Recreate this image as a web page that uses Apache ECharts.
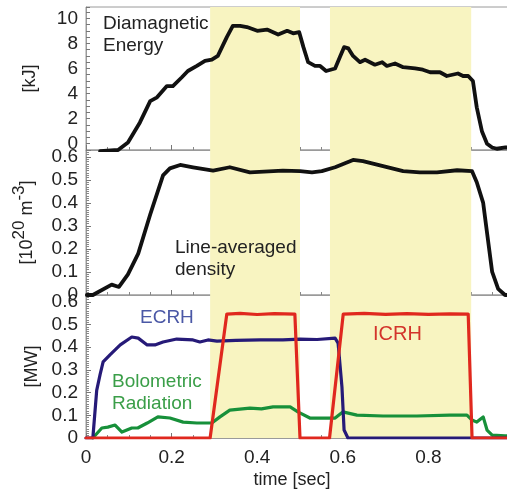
<!DOCTYPE html>
<html>
<head>
<meta charset="utf-8">
<script src="https://cdn.jsdelivr.net/npm/echarts@6/dist/echarts.min.js"></script>
<style>
  html, body { margin: 0; padding: 0; background: #fff; overflow: hidden; }
  #chart { width: 507px; height: 490px; }
</style>
</head>
<body>
<div id="chart"></div>
<script>
// Heating intervals (sec) shaded in every panel
const heatingWindows = [[0.29, 0.5], [0.57, 0.9]];

// Diamagnetic energy [kJ]
const energyTime = [0.033, 0.075, 0.098, 0.126, 0.15, 0.166, 0.189, 0.203, 0.224, 0.238, 0.259, 0.278, 0.294, 0.308, 0.329, 0.343, 0.36, 0.376, 0.40, 0.423, 0.449, 0.47, 0.484, 0.498, 0.508, 0.519, 0.535, 0.547, 0.561, 0.582, 0.593, 0.603, 0.613, 0.624, 0.64, 0.652, 0.675, 0.692, 0.703, 0.722, 0.741, 0.769, 0.787, 0.804, 0.827, 0.843, 0.869, 0.881, 0.893, 0.904, 0.913, 0.925, 0.937, 0.949, 0.96, 0.98, 1.0];
const energyKJ = [-0.6, -0.5, 0.1, 1.7, 3.4, 3.7, 4.6, 4.6, 5.3, 5.8, 6.2, 6.6, 6.7, 7.0, 8.5, 9.4, 9.4, 9.3, 9.0, 9.1, 8.7, 9.0, 8.8, 8.9, 7.7, 6.5, 6.2, 6.2, 5.8, 6.0, 6.9, 7.7, 7.6, 7.0, 6.5, 6.7, 6.3, 6.5, 6.2, 6.4, 6.1, 6.0, 5.9, 5.7, 5.7, 5.4, 5.6, 5.4, 5.4, 5.0, 2.9, 1.0, 0.0, -0.3, -0.4, -0.3, -0.3];

// Line-averaged density [10^20 m^-3]
const densityTime = [0.002, 0.016, 0.06, 0.077, 0.098, 0.122, 0.15, 0.18, 0.196, 0.22, 0.25, 0.297, 0.336, 0.383, 0.46, 0.5, 0.528, 0.551, 0.582, 0.624, 0.647, 0.694, 0.741, 0.78, 0.82, 0.867, 0.902, 0.913, 0.928, 0.937, 0.949, 0.963, 0.979, 1.0];
const density = [0, 0, 0.045, 0.035, 0.09, 0.18, 0.35, 0.52, 0.55, 0.565, 0.555, 0.54, 0.555, 0.533, 0.54, 0.538, 0.533, 0.538, 0.555, 0.587, 0.582, 0.56, 0.538, 0.533, 0.533, 0.542, 0.538, 0.49, 0.4, 0.27, 0.10, 0.027, 0, 0];

// ECRH power [MW]
const ecrhTime = [0, 0.016, 0.025, 0.033, 0.04, 0.056, 0.08, 0.107, 0.122, 0.143, 0.161, 0.18, 0.212, 0.25, 0.266, 0.285, 0.306, 0.35, 0.407, 0.46, 0.5, 0.54, 0.582, 0.589, 0.598, 0.603, 0.612, 0.7, 0.8, 0.9, 1.0];
const ecrhMW = [0, 0, 0.21, 0.28, 0.335, 0.366, 0.41, 0.445, 0.44, 0.41, 0.41, 0.423, 0.436, 0.432, 0.423, 0.432, 0.427, 0.43, 0.432, 0.432, 0.436, 0.434, 0.44, 0.418, 0.225, 0.035, 0, 0, 0, 0, 0];

// ICRH power [MW]
const icrhTime = [0, 0.29, 0.329, 0.36, 0.4, 0.44, 0.488, 0.5, 0.569, 0.601, 0.65, 0.7, 0.75, 0.8, 0.85, 0.893, 0.902, 1.0];
const icrhMW = [0, 0, 0.546, 0.549, 0.544, 0.548, 0.546, 0, 0, 0.546, 0.549, 0.545, 0.548, 0.545, 0.547, 0.546, 0, 0];

// Bolometric radiation [MW]
const boloTime = [0.016, 0.037, 0.051, 0.068, 0.084, 0.107, 0.121, 0.143, 0.168, 0.196, 0.227, 0.259, 0.294, 0.313, 0.336, 0.383, 0.41, 0.437, 0.477, 0.495, 0.523, 0.551, 0.582, 0.6, 0.633, 0.694, 0.773, 0.85, 0.89, 0.902, 0.913, 0.928, 0.937, 0.949, 0.979, 1.0];
const boloMW = [0, 0.044, 0.048, 0.057, 0.026, 0.044, 0.044, 0.066, 0.093, 0.088, 0.07, 0.066, 0.066, 0.093, 0.123, 0.132, 0.128, 0.137, 0.137, 0.115, 0.088, 0.088, 0.088, 0.115, 0.101, 0.097, 0.097, 0.101, 0.101, 0.079, 0.07, 0.093, 0.035, 0.013, 0.009, 0.009];

// Axis tick labels
const timeTicks = ['0', '0.2', '0.4', '0.6', '0.8', '1'];

const zip = (xs, ys) => xs.map((x, i) => [x, ys[i]]);

const FONT = 'Liberation Sans, Arial, sans-serif';
const AXIS_GRAY = '#9a9a9a';
const LABEL_COLOR = '#222';

// Plot area runs a little past the right edge of the canvas
const gridBase = {
  left: 86, width: 428, outerBoundsMode: 'none', containLabel: false,
  show: true, borderColor: AXIS_GRAY, borderWidth: 1, backgroundColor: 'transparent'
};

function xAxisFor(gridIndex, withLabels) {
  return {
    type: 'value', gridIndex, min: 0, max: 1, interval: 0.2,
    axisLine: { show: true, onZero: false, lineStyle: { color: AXIS_GRAY } },
    axisTick: { show: true, inside: true, length: 5, lineStyle: { color: '#777' } },
    minorTick: { show: true, splitNumber: 4, length: 3, lineStyle: { color: '#888' } },
    splitLine: { show: false },
    axisLabel: withLabels ? {
      show: true, fontFamily: FONT, fontSize: 19, color: LABEL_COLOR, margin: 10,
      showMaxLabel: true,
      formatter: v => timeTicks[Math.round(v / 0.2)] ?? ''
    } : { show: false },
    name: withLabels ? 'time [sec]' : '',
    nameLocation: 'middle', nameGap: 33,
    nameTextStyle: { fontFamily: FONT, fontSize: 18, color: LABEL_COLOR, padding: [0, 16, 0, 0] }
  };
}

function yAxisFor(gridIndex, opts) {
  return Object.assign({
    type: 'value', gridIndex,
    axisLine: { show: true, onZero: false, lineStyle: { color: AXIS_GRAY } },
    axisTick: { show: true, inside: true, length: 5, lineStyle: { color: '#777' } },
    splitLine: { show: false },
    nameLocation: 'middle', nameRotate: 90,
    nameTextStyle: { fontFamily: FONT, fontSize: 18, color: LABEL_COLOR }
  }, opts);
}

function shading(xi, yi) {
  return {
    type: 'line', xAxisIndex: xi, yAxisIndex: yi, data: [], silent: true, z: 0,
    markArea: {
      silent: true,
      itemStyle: { color: '#f8f4c1', opacity: 1 },
      data: heatingWindows.map(w => [{ xAxis: w[0] }, { xAxis: w[1] }])
    }
  };
}

function trace(xi, yi, data, color, width) {
  return {
    type: 'line', xAxisIndex: xi, yAxisIndex: yi, data, z: 5,
    showSymbol: false, symbol: 'none', smooth: false, animation: false,
    lineStyle: { color, width, join: 'round', cap: 'round' }
  };
}

const annotation = (left, top, text, color, size) => ({
  type: 'text', left, top, z: 50,
  style: { text, fill: color, font: `${size || 19}px ${FONT}`, lineHeight: 22 }
});

const chart = echarts.init(document.getElementById('chart'), null, { renderer: 'canvas' });

const fractionLabel = v => v === 0 ? '0' : v.toFixed(1);

chart.setOption({
  animation: false,
  backgroundColor: '#fff',
  grid: [
    Object.assign({ top: 7, height: 143 }, gridBase),
    Object.assign({ top: 150, height: 145 }, gridBase),
    Object.assign({ top: 295, height: 143 }, gridBase)
  ],
  xAxis: [xAxisFor(0, false), xAxisFor(1, false), xAxisFor(2, true)],
  yAxis: [
    yAxisFor(0, {
      min: -0.5, max: 10.9, interval: 0.5,
      axisTick: { show: true, inside: true, length: 4, lineStyle: { color: '#777' } },
      axisLabel: {
        fontFamily: FONT, fontSize: 19, color: LABEL_COLOR, margin: 8,
        formatter: v => (v >= 0 && Math.abs(v / 2 - Math.round(v / 2)) < 1e-6) ? String(Math.round(v)) : ''
      },
      name: '[kJ]', nameGap: 47
    }),
    yAxisFor(1, {
      min: 0, max: 0.63, interval: 0.1,
      minorTick: { show: true, splitNumber: 10, length: 3, lineStyle: { color: '#888' } },
      axisLabel: {
        fontFamily: FONT, fontSize: 19, color: LABEL_COLOR, margin: 8,
        showMinLabel: true, formatter: fractionLabel
      },
      name: '[10{sup|20} m{sup|-3}]', nameGap: 42,
      nameTextStyle: {
        fontFamily: FONT, fontSize: 18, color: LABEL_COLOR,
        rich: {
          sup: { fontFamily: FONT, fontSize: 17, color: LABEL_COLOR, verticalAlign: 'top', padding: [0, 0, 16, 0] }
        }
      }
    }),
    yAxisFor(2, {
      min: 0, max: 0.63, interval: 0.1,
      minorTick: { show: true, splitNumber: 10, length: 3, lineStyle: { color: '#888' } },
      axisLabel: {
        fontFamily: FONT, fontSize: 19, color: LABEL_COLOR, margin: 8,
        showMinLabel: true, formatter: fractionLabel
      },
      name: '[MW]', nameGap: 44
    })
  ],
  series: [
    shading(0, 0), shading(1, 1), shading(2, 2),
    trace(0, 0, zip(energyTime, energyKJ), '#111', 3.8),
    trace(1, 1, zip(densityTime, density), '#111', 3.8),
    trace(2, 2, zip(boloTime, boloMW), '#17903a', 3.2),
    trace(2, 2, zip(ecrhTime, ecrhMW), '#261a78', 3.2),
    trace(2, 2, zip(icrhTime, icrhMW), '#e0281e', 3.2)
  ],
  graphic: [
    annotation(103, 13, 'Diamagnetic\nEnergy', '#222'),
    annotation(175, 237, 'Line-averaged\ndensity', '#222'),
    annotation(140, 307, 'ECRH', '#4b58a6'),
    annotation(112, 371, 'Bolometric\nRadiation', '#3a9e48'),
    annotation(373, 323, 'ICRH', '#d3342b', 20)
  ]
});
</script>
</body>
</html>
